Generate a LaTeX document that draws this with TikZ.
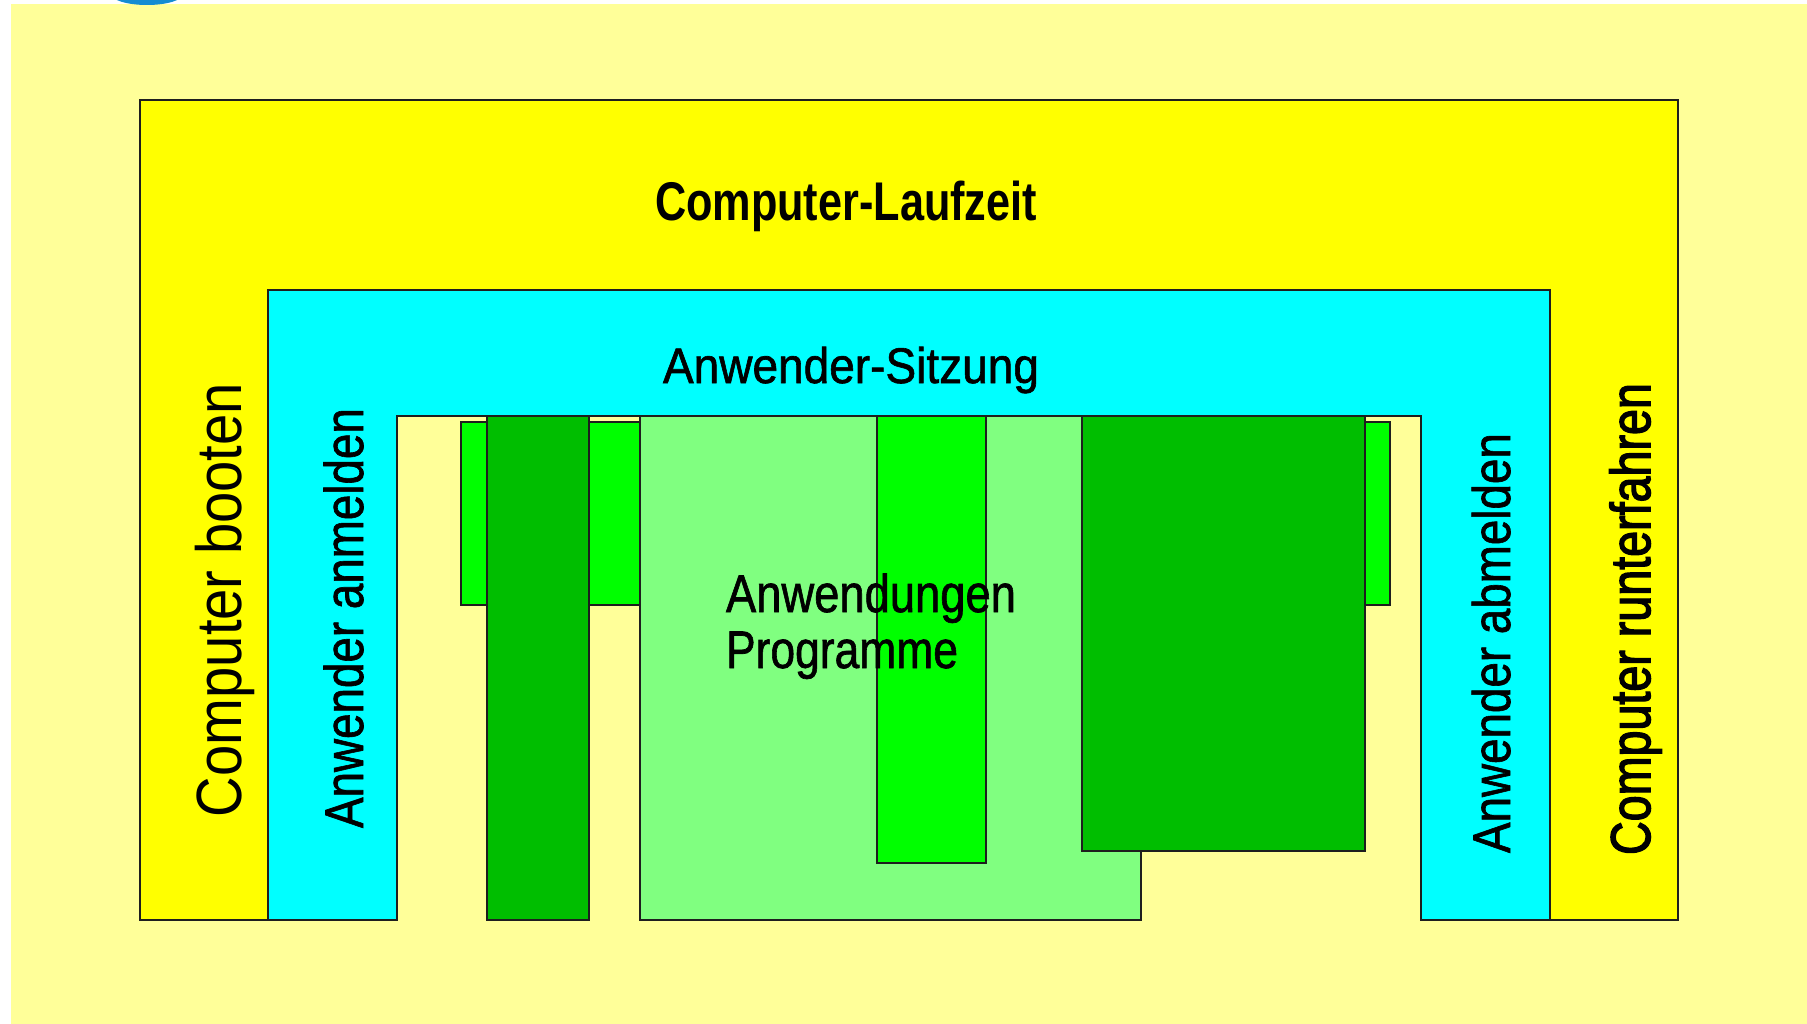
\documentclass[tikz,border=0pt]{standalone}
\usepackage{fontspec}
\setmainfont{Liberation Sans}
\newfontfamily\medfont[FakeBold=1.3]{Liberation Sans}
\newfontfamily\semifont[FakeBold=2.6]{Liberation Sans}
\usepackage{graphicx}
\newcommand{\fw}[2]{\resizebox{#1}{\height}{#2}}
\definecolor{paleyellow}{HTML}{FFFF99}
\definecolor{runyellow}{HTML}{FFFF00}
\definecolor{sesscyan}{HTML}{00FFFF}
\definecolor{lightgreen}{HTML}{80FF80}
\definecolor{brightgreen}{HTML}{00FF00}
\definecolor{darkgreen}{HTML}{00BE00}
\definecolor{logoblue}{RGB}{20,140,210}
\tikzset{
  frame/.style={draw={rgb,255:red,30;green,30;blue,30}, line width=1.1pt, line join=miter},
  lbl/.style={inner sep=0pt, outer sep=0pt, anchor=base, text=black},
}
\begin{document}
\begin{tikzpicture}[x=1pt, y=-1pt]
\useasboundingbox (0,0) rectangle (1807,1024);
% background
\fill[white] (0,0) rectangle (1807,1024);
\fill[paleyellow] (11,4) rectangle (1807,1024);
\fill[logoblue] (147,-6) ellipse [x radius=36, y radius=11];
% computer runtime (yellow U)
\path[frame, fill=runyellow] (140,920) -- (140,100) -- (1678,100) -- (1678,920) -- (1550,920) -- (1550,290) -- (268,290) -- (268,920) -- cycle;
% user session (cyan U)
\path[frame, fill=sesscyan] (268,920) -- (268,290) -- (1550,290) -- (1550,920) -- (1421,920) -- (1421,416) -- (397,416) -- (397,920) -- cycle;
% applications
\path[frame, fill=brightgreen] (461,422) rectangle (1390,605);
\path[frame, fill=darkgreen] (487,416) rectangle (589,920);
\path[frame, fill=lightgreen] (640,416) rectangle (1141,920);
\path[frame, fill=brightgreen] (877,416) rectangle (986,863);
\path[frame, fill=darkgreen] (1082,416) rectangle (1365,851);
% labels
\node[lbl, font=\fontsize{54.5}{60}\selectfont\bfseries] (laufzeit) at (846,221) {\fw{382pt}{Computer-Laufzeit}};
\node[lbl, font=\medfont\fontsize{50}{56}\selectfont] (sitzung) at (851,383) {\fw{376pt}{Anwender-Sitzung}};
\node[lbl, rotate=90, font=\fontsize{64}{70}\selectfont] (booten) at (241,600) {\fw{434pt}{Computer booten}};
\node[lbl, rotate=90, font=\medfont\fontsize{54.5}{60}\selectfont] (anmelden) at (363,618) {\fw{420pt}{Anwender anmelden}};
\node[lbl, rotate=90, font=\medfont\fontsize{53}{60}\selectfont] (abmelden) at (1510,643) {\fw{420pt}{Anwender abmelden}};
\node[lbl, rotate=90, font=\semifont\fontsize{56}{62}\selectfont] (runter) at (1650,619) {\fw{472pt}{Computer runterfahren}};
\node[lbl, anchor=base west, font=\medfont\fontsize{53}{60}\selectfont] (anw) at (726,612) {\fw{290pt}{Anwendungen}};
\node[lbl, anchor=base west, font=\medfont\fontsize{53}{60}\selectfont] (prog) at (726,668) {\fw{232pt}{Programme}};
\end{tikzpicture}
\end{document}
